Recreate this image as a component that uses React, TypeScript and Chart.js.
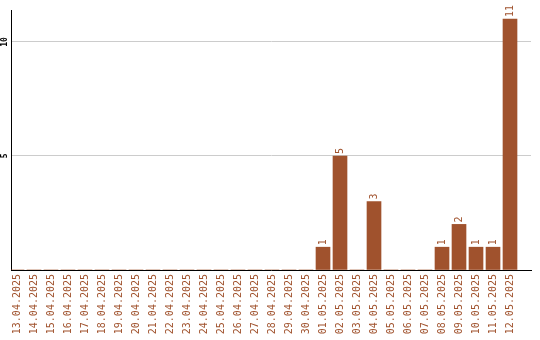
import React, { useEffect, useRef } from "react";
import { Chart, registerables } from "chart.js";

Chart.register(...registerables);

const dates = [
  "13.04.2025", "14.04.2025", "15.04.2025", "16.04.2025", "17.04.2025",
  "18.04.2025", "19.04.2025", "20.04.2025", "21.04.2025", "22.04.2025",
  "23.04.2025", "24.04.2025", "25.04.2025", "26.04.2025", "27.04.2025",
  "28.04.2025", "29.04.2025", "30.04.2025", "01.05.2025", "02.05.2025",
  "03.05.2025", "04.05.2025", "05.05.2025", "06.05.2025", "07.05.2025",
  "08.05.2025", "09.05.2025", "10.05.2025", "11.05.2025", "12.05.2025",
];

const counts = [
  0, 0, 0, 0, 0, 0, 0, 0, 0, 0,
  0, 0, 0, 0, 0, 0, 0, 0, 1, 5,
  0, 3, 0, 0, 0, 1, 2, 1, 1, 11,
];

const yTickValues = [5, 10];

const BAR_COLOR = "#A0522D";
const MONO = "'DejaVu Sans Mono', 'Liberation Mono', monospace";

// Value labels above the bars and rotated y tick labels
const annotate = {
  id: "annotate",
  afterDatasetsDraw(chart: any) {
    const { ctx } = chart;
    const meta = chart.getDatasetMeta(0);
    ctx.save();
    ctx.fillStyle = BAR_COLOR;
    ctx.font = `10px ${MONO}`;
    ctx.textAlign = "left";
    ctx.textBaseline = "middle";
    meta.data.forEach((bar: any, i: number) => {
      const v = counts[i];
      if (!v) return;
      ctx.save();
      ctx.translate(bar.x, bar.y - 2);
      ctx.rotate(-Math.PI / 2);
      ctx.fillText(String(v), 0, 0);
      ctx.restore();
    });

    const yScale = chart.scales.y;
    ctx.fillStyle = "#000";
    ctx.font = `bold 8px ${MONO}`;
    ctx.textAlign = "center";
    ctx.textBaseline = "middle";
    yTickValues.forEach((v) => {
      ctx.save();
      ctx.translate(4.5, yScale.getPixelForValue(v));
      ctx.rotate(-Math.PI / 2);
      ctx.fillText(String(v), 0, 0);
      ctx.restore();
    });
    ctx.restore();
  },
};

export default function App() {
  const canvasRef = useRef<HTMLCanvasElement | null>(null);

  useEffect(() => {
    const canvas = canvasRef.current;
    if (!canvas) return;
    const chart = new Chart(canvas, {
      type: "bar",
      data: {
        datasets: [
          {
            data: counts.map((c, i) => ({ x: i, y: c })),
            backgroundColor: BAR_COLOR,
            borderWidth: 0,
            barThickness: 14,
          },
        ],
      },
      options: {
        animation: false,
        responsive: false,
        maintainAspectRatio: false,
        layout: { padding: { top: 10, right: 9, left: 0, bottom: 0 } },
        plugins: {
          legend: { display: false },
          tooltip: { enabled: false },
        },
        scales: {
          x: {
            type: "linear",
            min: -0.353,
            max: 30.235,
            offset: false,
            grid: { display: false, drawTicks: false },
            border: { display: true, color: "#000", width: 1 },
            afterBuildTicks(scale: any) {
              scale.ticks = dates.map((_, i) => ({ value: i }));
            },
            ticks: {
              color: BAR_COLOR,
              font: { family: MONO, size: 10 },
              minRotation: 90,
              maxRotation: 90,
              autoSkip: false,
              padding: 4,
              callback: (v: any) => dates[v] ?? "",
            },
            afterFit(scale: any) {
              scale.height = 70;
            },
          },
          y: {
            min: 0,
            max: 11.4,
            grid: { color: "#cccccc", drawTicks: false, lineWidth: 1 },
            border: { display: true, color: "#000", width: 1 },
            afterBuildTicks(scale: any) {
              scale.ticks = [0, ...yTickValues].map((v) => ({ value: v }));
            },
            ticks: { display: false },
            afterFit(scale: any) {
              scale.width = 11;
            },
          },
        },
      },
      plugins: [annotate],
    });
    return () => chart.destroy();
  }, []);

  return (
    <div style={{ position: "fixed", left: 0, top: 0, width: 540, height: 340, background: "#fff" }}>
      <canvas ref={canvasRef} width={540} height={340} style={{ display: "block" }} />
    </div>
  );
}
